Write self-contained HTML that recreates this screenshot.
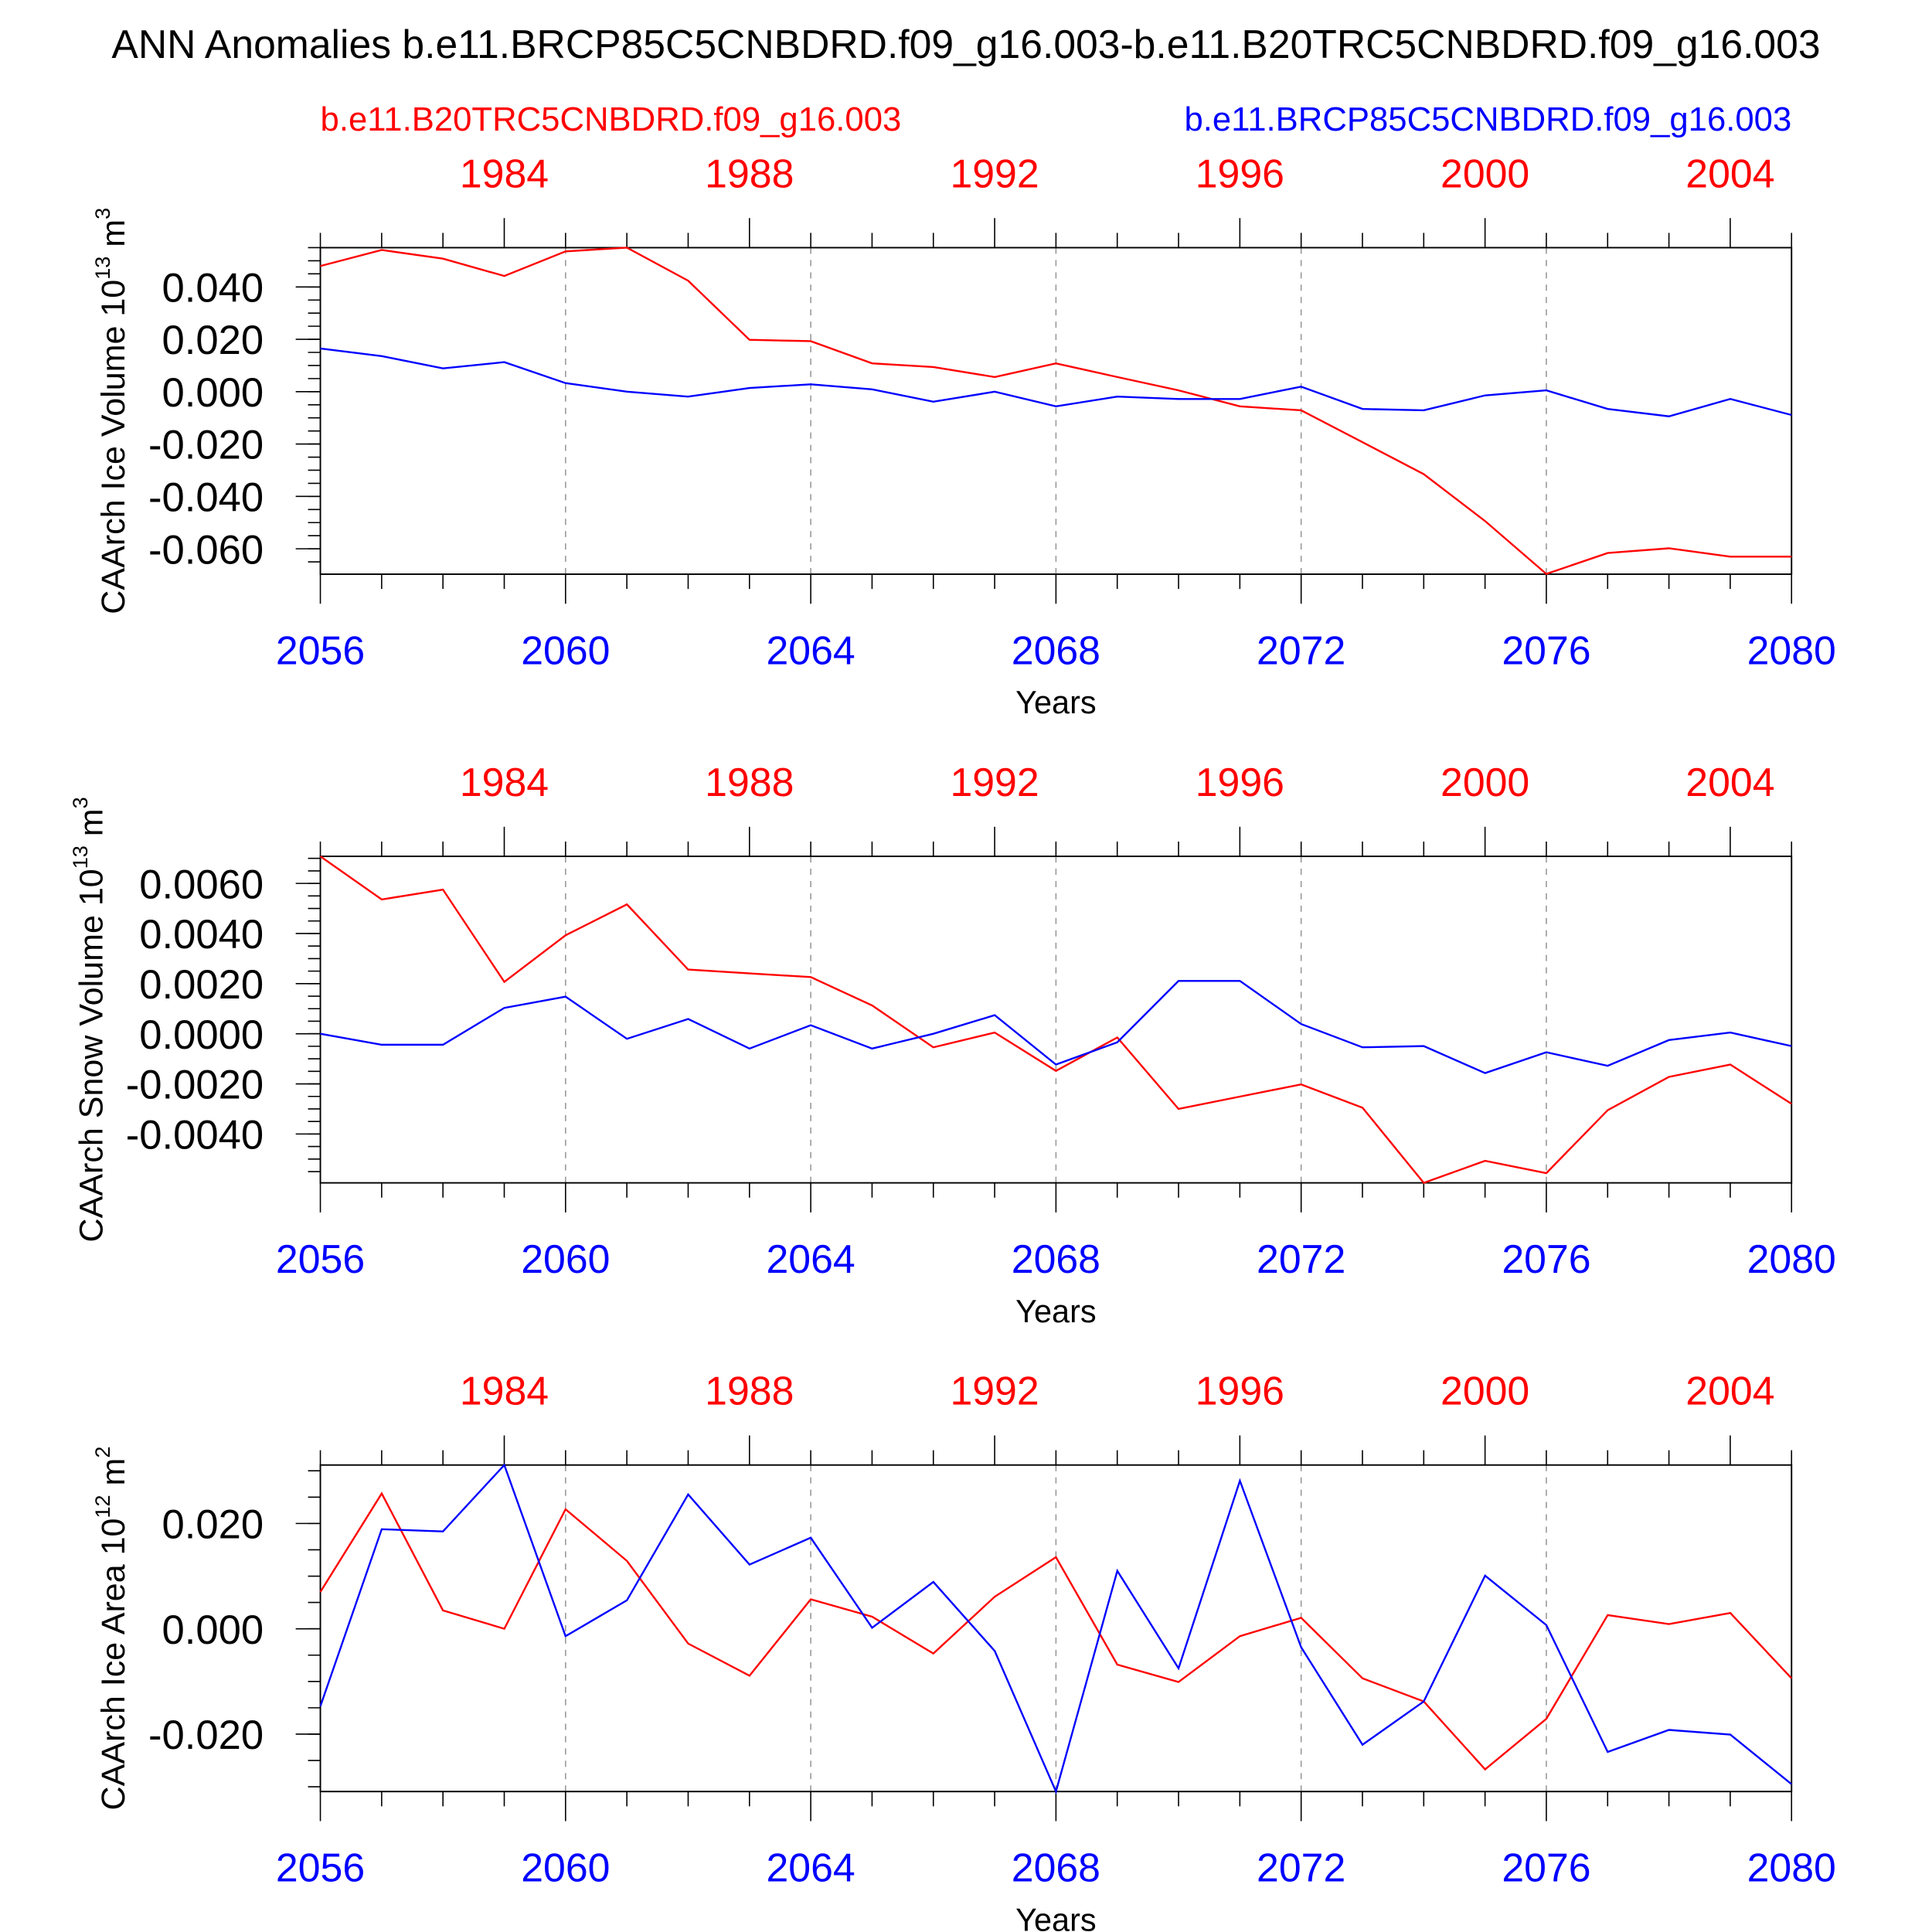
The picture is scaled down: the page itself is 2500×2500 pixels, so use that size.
<!DOCTYPE html>
<html><head><meta charset="utf-8"><style>
html,body{margin:0;padding:0;background:#fff}
svg{display:block}
text{font-family:"Liberation Sans",Arial,sans-serif}
</style></head><body>
<svg id="chart" width="2500" height="2500" viewBox="0 0 1568 1568" xmlns="http://www.w3.org/2000/svg">
<text x="784" y="47" font-size="32.4" text-anchor="middle">ANN Anomalies b.e11.BRCP85C5CNBDRD.f09_g16.003-b.e11.B20TRC5CNBDRD.f09_g16.003</text>
<text x="260" y="106" font-size="27.4" fill="#ff0000">b.e11.B20TRC5CNBDRD.f09_g16.003</text>
<text x="1454" y="106" font-size="27.4" fill="#0000ff" text-anchor="end">b.e11.BRCP85C5CNBDRD.f09_g16.003</text>
</svg>
<script>
const years=[2056,2057,2058,2059,2060,2061,2062,2063,2064,2065,2066,2067,2068,2069,2070,2071,2072,2073,2074,2075,2076,2077,2078,2079,2080];
const xTicks=[2056,2060,2064,2068,2072,2076,2080];
const topTicks=[1984,1988,1992,1996,2000,2004];
const iceVolRed=[0.048,0.0541,0.0508,0.0442,0.0536,0.055,0.0424,0.0198,0.0193,0.0108,0.0094,0.0056,0.0108,0.0056,0.0005,-0.0056,-0.0071,-0.0193,-0.0315,-0.0494,-0.0696,-0.0616,-0.0598,-0.063,-0.063];
const iceVolBlue=[0.0165,0.0136,0.0089,0.0113,0.0033,0,-0.0019,0.0014,0.0028,0.0009,-0.0038,0,-0.0056,-0.0019,-0.0028,-0.0028,0.0019,-0.0066,-0.0071,-0.0014,0.0005,-0.0066,-0.0094,-0.0028,-0.0089];
const snowVolRed=[0.00708,0.00536,0.00575,0.00207,0.00393,0.00516,0.00256,0.00241,0.00226,0.00113,-0.00054,0.00005,-0.00148,-0.00015,-0.003,-0.00251,-0.00202,-0.00295,-0.00595,-0.00507,-0.00556,-0.00305,-0.00172,-0.00123,-0.0028];
const snowVolBlue=[0,-0.00044,-0.00044,0.00103,0.00148,-0.0002,0.00059,-0.00059,0.00034,-0.00059,0,0.00074,-0.00123,-0.00034,0.00211,0.00211,0.00039,-0.00054,-0.00049,-0.00157,-0.00074,-0.00128,-0.00025,0.00005,-0.00049];
const iceAreaRed=[0.007,0.0257,0.0035,0,0.0227,0.0129,-0.0028,-0.0089,0.0056,0.0023,-0.0047,0.0061,0.0136,-0.0068,-0.0101,-0.0014,0.0021,-0.0094,-0.0138,-0.0267,-0.0171,0.0026,0.0009,0.003,-0.0094];
const iceAreaBlue=[-0.0147,0.0189,0.0185,0.0311,-0.0014,0.0054,0.0255,0.0122,0.0173,0.0002,0.0089,-0.0042,-0.0309,0.011,-0.0075,0.0281,-0.0035,-0.022,-0.0138,0.0101,0.0007,-0.0234,-0.0192,-0.0201,-0.0295];
const iceVolTicks=[0.04,0.02,0,-0.02,-0.04,-0.06];
const iceVolLabels=["0.040","0.020","0.000","-0.020","-0.040","-0.060"];
const snowTicks=[0.006,0.004,0.002,0,-0.002,-0.004];
const snowLabels=["0.0060","0.0040","0.0020","0.0000","-0.0020","-0.0040"];
const areaTicks=[0.02,0,-0.02];
const areaLabels=["0.020","0.000","-0.020"];

const NS="http://www.w3.org/2000/svg";
const svg=document.getElementById('chart');
function el(tag,attrs,parent){const e=document.createElementNS(NS,tag);for(const k in attrs)e.setAttribute(k,attrs[k]);(parent||svg).appendChild(e);return e;}
const X0=260,X1=1454;
const xs=v=>X0+(v-2056)/(2080-2056)*(X1-X0);

const panels=[
 {name:'ice-volume',top:201,bot:466,min:-0.0697,max:0.055,ticks:iceVolTicks,labels:iceVolLabels,minor:0.005,red:iceVolRed,blue:iceVolBlue,title:['CAArch Ice Volume 10','13',' m','3'],tx:101},
 {name:'snow-volume',top:695,bot:960,min:-0.00595,max:0.00708,ticks:snowTicks,labels:snowLabels,minor:0.0005,red:snowVolRed,blue:snowVolBlue,title:['CAArch Snow Volume 10','13',' m','3'],tx:83},
 {name:'ice-area',top:1189,bot:1454,min:-0.0309,max:0.0311,ticks:areaTicks,labels:areaLabels,minor:0.005,red:iceAreaRed,blue:iceAreaBlue,title:['CAArch Ice Area 10','12',' m','2'],tx:101}
];
panels.forEach(p=>{
 const g=el('g',{});
 
 
 const ys=v=>p.bot-(v-p.min)/(p.max-p.min)*(p.bot-p.top);
 xTicks.slice(1,-1).forEach(t=>{
  const l=el('line',{x1:xs(t),x2:xs(t),y1:p.top,y2:p.bot,stroke:'#999','stroke-width':1,'stroke-dasharray':'5,5'},g);
  
  
 });
 years.forEach(y=>{
  const maj=(y-2056)%4===0;
  el('line',{x1:xs(y),x2:xs(y),y1:p.bot,y2:p.bot+(maj?24:12),stroke:'#000','stroke-width':1},g);
  const tmaj=(y-2059)%4===0;
  el('line',{x1:xs(y),x2:xs(y),y1:p.top,y2:p.top-(tmaj?24:12),stroke:'#000','stroke-width':1},g);
 });
 xTicks.forEach(t=>{
  const tx=el('text',{x:xs(t),y:p.bot+73,'font-size':32.5,fill:'#0000ff','text-anchor':'middle'},g);
  
  
  tx.textContent=t;
 });
 topTicks.forEach(t=>{
  const tx=el('text',{x:xs(t+75),y:p.top-49,'font-size':32.5,fill:'#ff0000','text-anchor':'middle'},g);
  
  
  tx.textContent=t;
 });
 const xt=el('text',{x:857,y:p.bot+113,'font-size':26,'text-anchor':'middle'},g);
 
 
 xt.textContent='Years';
 const n0=Math.ceil(p.min/p.minor),n1=Math.floor(p.max/p.minor);
 for(let i=n0;i<=n1;i++){const v=i*p.minor;el('line',{x1:X0,x2:X0-10,y1:ys(v),y2:ys(v),stroke:'#000','stroke-width':1},g);}
 p.ticks.forEach((t,i)=>{
  el('line',{x1:X0,x2:X0-20,y1:ys(t),y2:ys(t),stroke:'#000','stroke-width':1},g);
  const tx=el('text',{x:X0-46,y:ys(t)+12,'font-size':33,'text-anchor':'end'},g);
  
  
  tx.textContent=p.labels[i];
 });
 const cy=(p.top+p.bot)/2;
 const yt=el('text',{x:0,y:0,'font-size':27,'text-anchor':'middle',transform:`translate(${p.tx},${cy}) rotate(-90)`},g);
 
 
 const parts=p.title;
 [[parts[0],0],[parts[1],1],[parts[2],0],[parts[3],1]].forEach(([s,sup])=>{
  const ts=el('tspan',sup?{'font-size':17,dy:-12}:{dy:0},yt);
  if(!sup && s!==parts[0]) ts.setAttribute('dy',12);
  ts.textContent=s;
 });
 el('rect',{x:X0,y:p.top,width:X1-X0,height:p.bot-p.top,fill:'none',stroke:'#000','stroke-width':1.2},g);
 [['red',p.red,'#ff0000'],['blue',p.blue,'#0000ff']].forEach(([nm,arr,col])=>{
  const pts=arr.map((v,i)=>xs(years[i]).toFixed(1)+','+ys(v).toFixed(1)).join(' ');
  const pl=el('polyline',{points:pts,fill:'none',stroke:col,'stroke-width':1.5},g);
  
  
 });
});
</script>
</body></html>
